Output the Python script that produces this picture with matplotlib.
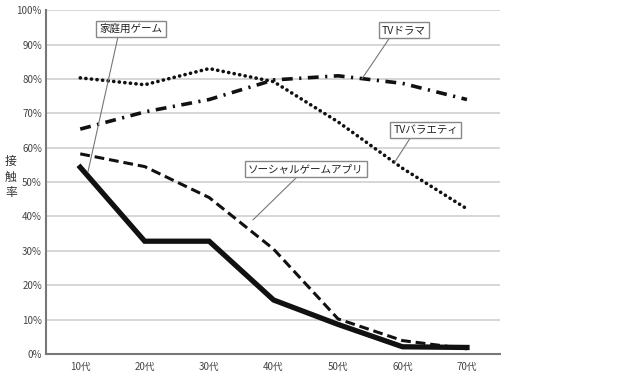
import numpy as np
import matplotlib.pyplot as plt

plt.rcParams['font.family'] = ['Noto Sans CJK JP', 'DejaVu Sans']

# ----------------------
# データ
# ----------------------
ages = ['10代', '20代', '30代', '40代', '50代', '60代', '70代']
home_game = [54.3, 32.8, 32.8, 15.7, 8.6, 2.1, 1.9]
social_game = [58.2, 54.5, 45.5, 30.5, 10.2, 3.9, 1.5]
tv_drama = [65.4, 70.4, 74.0, 79.7, 80.9, 78.7, 74.0]
tv_variety = [80.3, 78.3, 83.0, 79.2, 67.5, 54.0, 42.2]
yticks = [0, 10, 20, 30, 40, 50, 60, 70, 80, 90, 100]

x = np.arange(len(ages))
c = '#111111'

fig = plt.figure(figsize=(6.4, 3.75), dpi=100)
ax = fig.add_axes([0.072, 0.056, 0.709, 0.917])

for v in yticks[1:]:
    ax.axhline(v, color='#cccccc', lw=1.1, zorder=0)

ax.plot(x, tv_variety, color=c, lw=2.6, linestyle=(0, (0.05, 1.5)),
        dash_capstyle='round', zorder=3)
ax.plot(x, tv_drama, color=c, lw=2.6, linestyle=(0, (3.0, 1.8, 0.6, 1.8)), zorder=3)
ax.plot(x, social_game, color=c, lw=2.2, linestyle=(0, (3.2, 1.6)), zorder=3)
ax.plot(x, home_game, color=c, lw=3.8, solid_joinstyle='miter', zorder=4)

ax.set_xlim(-0.53, 6.51)
ax.set_ylim(0, 100)
ax.set_xticks(x)
ax.set_xticklabels(ages)
ax.set_yticks(yticks)
ax.set_yticklabels([f'{v}%' for v in yticks])
ax.tick_params(length=0, labelsize=7, labelcolor='#444444', pad=3)
ax.tick_params(axis='x', pad=6)

for s in ['top', 'right']:
    ax.spines[s].set_visible(False)
for s in ['left', 'bottom']:
    ax.spines[s].set_color('#777777')
    ax.spines[s].set_linewidth(1.5)

box = dict(boxstyle='square,pad=0.3', fc='white', ec='#888888', lw=1)

def label(txt, xy, xytext, rx):
    ax.annotate(txt, xy=xy, xytext=xytext, fontsize=7.6, color='#222222',
                ha='center', va='center', bbox=box, zorder=6,
                arrowprops=dict(arrowstyle='-', color='#777777', lw=0.8,
                                relpos=(rx, 0), shrinkA=0, shrinkB=0))

label('家庭用ゲーム', (0.12, 53), (0.79, 94.5), 0.3)
label('TVドラマ', (4.37, 80), (5.02, 94.2), 0.22)
label('TVバラエティ', (4.88, 55.8), (5.36, 65.1), 0.29)
label('ソーシャルゲームアプリ', (2.68, 39), (3.5, 53.8), 0.45)

fig.text(0.017, 0.527, '接\n触\n率', fontsize=8.5, color='#333333',
         ha='center', va='center', linespacing=1.25)

fig.savefig('out.png', dpi=100)
